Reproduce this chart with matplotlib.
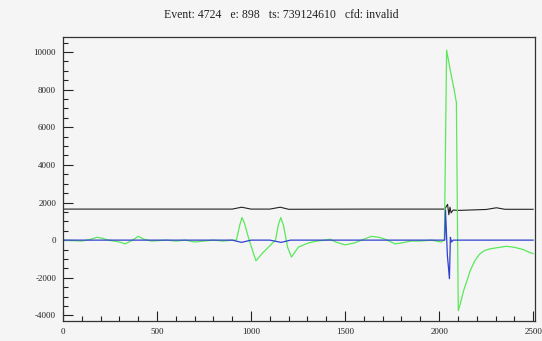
import numpy as np
import matplotlib
matplotlib.use('Agg')
import matplotlib.pyplot as plt
from matplotlib.ticker import MultipleLocator

# ---- trace keypoints (sample index, amplitude) ----
green_x = [0, 100, 150, 180, 210, 240, 300, 330, 370, 400, 430, 470, 550, 600, 650, 700,
           750, 800, 850, 900, 922, 940, 952, 965, 990, 1026, 1060, 1100, 1130, 1145, 1158,
           1172, 1195, 1215, 1252, 1305, 1350, 1395, 1420, 1450, 1500, 1550, 1600, 1640,
           1680, 1713, 1766, 1800, 1850, 1900, 1960, 2010, 2028, 2034, 2040, 2060, 2080,
           2092, 2102, 2115, 2130, 2150, 2165, 2190, 2215, 2240, 2268, 2310, 2357, 2400,
           2447, 2480, 2500]
green_y = [0, -50, 50, 150, 100, 0, -100, -200, 0, 200, 50, -50, 0, -50, 0, -100,
           -50, 0, -50, 0, 0, 800, 1200, 900, 0, -1100, -700, -300, 0, 800, 1200,
           800, -400, -900, -370, -150, -50, 0, 50, -100, -250, -150, 50, 200,
           150, 50, -200, -150, -50, -50, 0, -100, 0, 5000, 10100, 9000, 8000,
           7300, -3750, -3300, -2700, -2100, -1630, -1100, -750, -560, -470, -400, -330, -380,
           -500, -650, -720]

blue_x = [0, 900, 950, 1000, 1100, 1160, 1210, 1600, 2030, 2034, 2044, 2055, 2060, 2066, 2075, 2500]
blue_y = [0, 0, -120, 0, 0, -120, 0, 0, 0, 1600, -800, -2050, 150, -100, 0, 0]

black_x = [0, 400, 900, 950, 1000, 1100, 1155, 1200, 1600, 2030, 2045, 2052, 2058, 2064,
           2075, 2100, 2250, 2305, 2350, 2500]
black_y = [1650, 1650, 1650, 1750, 1650, 1650, 1750, 1640, 1650, 1650, 1900, 1350, 1750,
           1450, 1600, 1580, 1630, 1720, 1640, 1640]

title = 'Event: 4724   e: 898   ts: 739124610   cfd: invalid'
xticks = [0, 500, 1000, 1500, 2000, 2500]
yticks = [-4000, -2000, 0, 2000, 4000, 6000, 8000, 10000]

bg = '#f5f5f5'
plt.rcParams['font.family'] = ['Liberation Serif', 'DejaVu Serif']

fig = plt.figure(figsize=(5.42, 3.41), dpi=100, facecolor=bg)
ax = fig.add_axes([63 / 542, 20 / 341, 472 / 542, 284 / 341], facecolor=bg)

ax.plot(black_x, black_y, color='#222222', lw=0.8)
ax.plot(green_x, green_y, color='#5ae85a', lw=0.9)
ax.plot(blue_x, blue_y, color='#3040d0', lw=0.9)

ax.set_xlim(0, 2510)
ax.set_ylim(-4300, 10800)
ax.set_xticks(xticks)
ax.set_xticklabels([str(t) for t in xticks])
ax.set_yticks(yticks)
ax.set_yticklabels([str(t) for t in yticks])
ax.xaxis.set_minor_locator(MultipleLocator(100))
ax.yaxis.set_minor_locator(MultipleLocator(500))
ax.tick_params(which='both', direction='in', top=False, right=False,
               color='#222222', width=0.8, labelsize=6.5, labelcolor='#222222')
ax.tick_params(which='major', length=7)
ax.tick_params(which='minor', length=3.5)
ax.tick_params(axis='y', pad=5)
ax.tick_params(axis='x', pad=5)
for s in ax.spines.values():
    s.set_color('#333333')
    s.set_linewidth(0.9)

fig.text(0.518, 1 - 15 / 341, title, ha='center', va='center', fontsize=8.5, color='#222222')

fig.savefig('out.png', dpi=100, facecolor=bg)
